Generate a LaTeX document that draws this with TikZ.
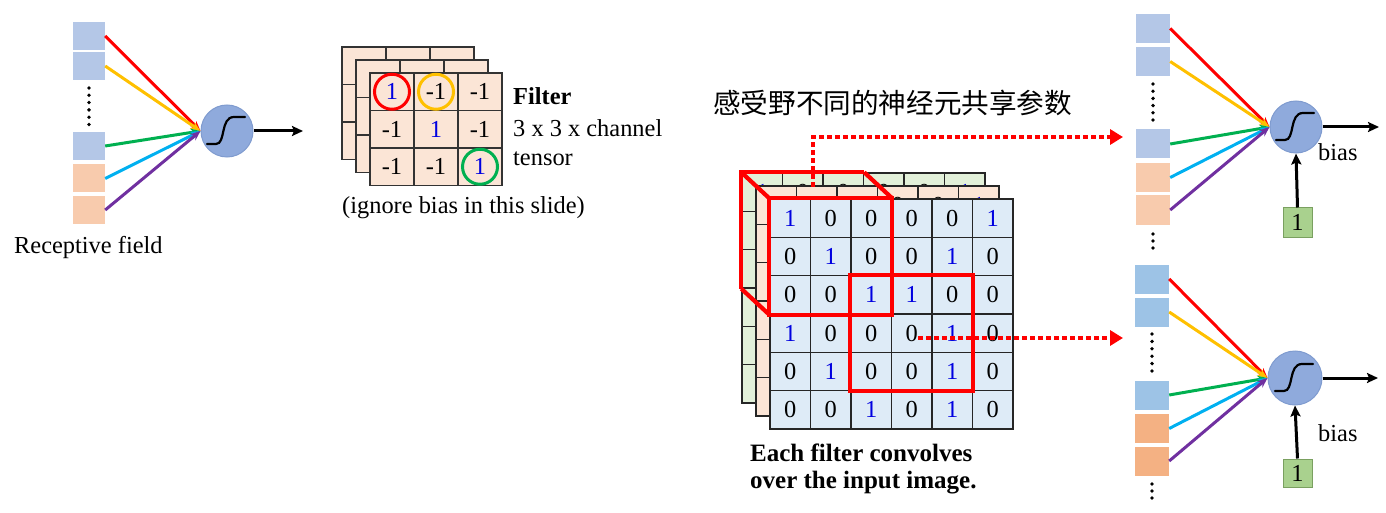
\documentclass[tikz,border=0pt]{standalone}
\usepackage{fontspec}
\setmainfont{Liberation Serif}
\newfontfamily\cjk{Noto Sans CJK SC}
\usetikzlibrary{arrows.meta}
\definecolor{boxblue}{HTML}{B4C7E7}
\definecolor{boxpeach}{HTML}{F8CBAD}
\definecolor{boxblueB}{HTML}{9DC3E6}
\definecolor{boxpeachB}{HTML}{F4B183}
\definecolor{cellpeach}{HTML}{FBE5D6}
\definecolor{cellblue}{HTML}{DEEBF7}
\definecolor{cellgreen}{HTML}{E2F0D9}
\definecolor{neuronfill}{HTML}{8FAADC}
\definecolor{neuronedge}{HTML}{7F9BCF}
\definecolor{biasgreen}{HTML}{A9D18E}
\definecolor{biasedge}{HTML}{7AA060}
\definecolor{aRed}{HTML}{FF0000}
\definecolor{aYellow}{HTML}{FFC000}
\definecolor{aGreen}{HTML}{00B050}
\definecolor{aCyan}{HTML}{00B0F0}
\definecolor{aPurple}{HTML}{7030A0}
\definecolor{numblue}{HTML}{0000E0}
\newcommand\myfs{\fontsize{24.4}{29}\selectfont}
\newcommand\cellnum[1]{\ifnum#1=1 \textcolor{numblue}{1}\else 0\fi}
\tikzset{
  inbox/.style={rectangle, minimum width=32pt, minimum height=28pt, inner sep=0pt, draw=none},
  neuron/.style={circle, fill=neuronfill, draw=neuronedge, line width=1pt, minimum size=52pt, inner sep=0pt},
  wire/.style={line width=3pt, -{Stealth[length=10pt,width=8pt]}},
  blkarrow/.style={line width=3pt, -{Stealth[length=11pt,width=10pt,inset=2pt]}},
  fcell/.style={rectangle, draw=black!80, line width=1.4pt, fill=cellpeach, minimum width=44pt, minimum height=37.5pt, inner sep=0pt},
  mcell/.style={rectangle, draw=black!85, line width=1.4pt, minimum width=40.5pt, minimum height=38.33pt, inner sep=0pt},
  redbox/.style={draw=aRed, line width=4.2pt, line join=miter},
  ring/.style={circle, line width=3pt, minimum size=35pt, inner sep=0pt},
  dotarrow/.style={draw=aRed, line width=4.8pt, dash pattern=on 4.5pt off 3.5pt, -{Triangle[length=13pt,width=15pt]}},
  biasbox/.style={rectangle, fill=biasgreen, draw=biasedge, line width=1pt, minimum width=29pt, minimum height=29pt, inner sep=0pt},
  lbl/.style={anchor=base west, inner sep=0pt},
  sigm/.pic={\draw[line width=2.2pt, line cap=round] (-20,13) -- (-11,13) .. controls (-1,13) and (-7,-14) .. (7,-14) -- (18,-14);}
}
\begin{document}
\begin{tikzpicture}[x=1pt,y=-1pt,font=\myfs]
\useasboundingbox (0,0) rectangle (1386,513);

% ---------------- left neuron ----------------
\node[inbox, fill=boxblue]  (L1) at (89,36) {};
\node[inbox, fill=boxblue]  (L2) at (89,66) {};
\node[inbox, fill=boxblue]  (L3) at (89,146) {};
\node[inbox, fill=boxpeach] (L4) at (89,178.5) {};
\node[inbox, fill=boxpeach] (L5) at (89,210) {};
\foreach \k in {0,...,5} \fill (89,88+\k*7.3) circle (1.9pt);
\node[neuron] (LN) at (227,131) {};
\pic at (LN) {sigm};
\draw[wire, aRed] (L1.east) -- (LN.west);
\draw[wire, aYellow] (L2.east) -- (LN.west);
\draw[wire, aGreen] (L3.east) -- (LN.west);
\draw[wire, aCyan] (L4.east) -- (LN.west);
\draw[wire, aPurple] (L5.east) -- (LN.west);
\coordinate (LO) at (303,131);
\draw[blkarrow] (LN.east) -- (LO);
\node[lbl] (lblRF) at (14,253) {Receptive field};

% ---------------- filter ----------------
\foreach \ox/\oy/\L in {342/47/c, 356/60/b} {
  \foreach \r in {0,1,2} \foreach \c in {0,1,2}
    \node[fcell] (f\L\r\c) at (\ox+22+\c*44, \oy+18.75+\r*37.5) {};
}
\foreach \r/\c/\v in {0/0/\textcolor{numblue}{1}, 0/1/-1, 0/2/-1, 1/0/-1, 1/1/\textcolor{numblue}{1}, 1/2/-1, 2/0/-1, 2/1/-1, 2/2/\textcolor{numblue}{1}}
  \node[fcell] (fa\r\c) at (392+\c*44, 91.75+\r*37.5) {\v};
\node[ring, draw=aRed] (ringR) at (fa00) {};
\node[ring, draw=aYellow] (ringY) at (fa01) {};
\node[ring, draw=aGreen] (ringG) at (fa22) {};
\node[lbl, font=\myfs\bfseries] (lblF) at (513,105) {Filter};
\node[lbl] (lblF2) at (513,137) {3 x 3 x channel};
\node[lbl] (lblF3) at (513,166) {tensor};
\node[lbl] (lblIg) at (342,213) {(ignore bias in this slide)};

% ---------------- input image ----------------
\foreach \ox/\oy/\L/\col in {742/173/c/cellgreen, 756/186/b/cellpeach, 770/199/a/cellblue} {
  \foreach \row [count=\r from 0] in {{1,0,0,0,0,1},{0,1,0,0,1,0},{0,0,1,1,0,0},{1,0,0,0,1,0},{0,1,0,0,1,0},{0,0,1,0,1,0}} {
    \foreach \v [count=\c from 0] in \row
      \node[mcell, fill=\col] (m\L\r\c) at (\ox+20.25+\c*40.5, \oy+19.17+\r*38.33) {\cellnum{\v}};
  }
}
% 3D receptive box
\coordinate (rfTL) at (ma00.north west);
\coordinate (rfTR) at (ma02.north east);
\coordinate (rfBL) at (ma20.south west);
\coordinate (rfBR) at (ma22.south east);
\coordinate (rbTL) at ([shift={(-28,-26)}]rfTL);
\coordinate (rbTR) at ([shift={(-28,-26)}]rfTR);
\coordinate (rbBL) at ([shift={(-28,-26)}]rfBL);
\draw[redbox] (rbBL) -- (rbTL) -- (rbTR);
\draw[redbox] (rbTL) -- (rfTL);
\draw[redbox] (rbTR) -- (rfTR);
\draw[redbox] (rbBL) -- (rfBL);
\draw[redbox] (rfTL) rectangle (rfBR);
\draw[redbox] (ma22.north west) rectangle (ma44.south east);

\node[lbl, font=\fontsize{25}{30}\selectfont\bfseries] (lblE1) at (750,461) {Each filter convolves};
\node[lbl, font=\fontsize{25}{30}\selectfont\bfseries] (lblE2) at (750,488) {over the input image.};
\node[lbl, font=\cjk\fontsize{27.6}{32}\selectfont] (lblCN) at (713,114) {感受野不同的神经元共享参数};

% ---------------- right top neuron ----------------
\node[inbox, fill=boxblue, minimum width=34pt, minimum height=29pt]  (A1) at (1153,28.5) {};
\node[inbox, fill=boxblue, minimum width=34pt, minimum height=29pt]  (A2) at (1153,61.5) {};
\node[inbox, fill=boxblue, minimum width=34pt, minimum height=29pt]  (A3) at (1153,144) {};
\node[inbox, fill=boxpeach, minimum width=34pt, minimum height=29pt] (A4) at (1153,177.5) {};
\node[inbox, fill=boxpeach, minimum width=34pt, minimum height=29pt] (A5) at (1153,210) {};
\foreach \k in {0,...,5} \fill (1153,84+\k*7.2) circle (1.9pt);
\foreach \k in {0,1,2} \fill (1153,234+\k*7) circle (1.9pt);
\node[neuron] (AN) at (1296,127) {};
\pic at (AN) {sigm};
\draw[wire, aRed] (A1.east) -- (AN.west);
\draw[wire, aYellow] (A2.east) -- (AN.west);
\draw[wire, aGreen] (A3.east) -- (AN.west);
\draw[wire, aCyan] (A4.east) -- (AN.west);
\draw[wire, aPurple] (A5.east) -- (AN.west);
\coordinate (AO) at (1379,127);
\draw[blkarrow] (AN.east) -- (AO);
\node[biasbox] (AB) at (1297.5,222.5) {1};
\draw[blkarrow] (AB.north) -- (AN.south);
\node[lbl] (lblA) at (1318,161) {bias};

% ---------------- right bottom neuron ----------------
\node[inbox, fill=boxblueB, minimum width=34pt, minimum height=29pt]  (B1) at (1152,279) {};
\node[inbox, fill=boxblueB, minimum width=34pt, minimum height=29pt]  (B2) at (1152,312) {};
\node[inbox, fill=boxblueB, minimum width=34pt, minimum height=29pt]  (B3) at (1152,395) {};
\node[inbox, fill=boxpeachB, minimum width=34pt, minimum height=29pt] (B4) at (1152,428.5) {};
\node[inbox, fill=boxpeachB, minimum width=34pt, minimum height=29pt] (B5) at (1152,461) {};
\foreach \k in {0,...,5} \fill (1152,334+\k*7.4) circle (1.9pt);
\foreach \k in {0,1,2} \fill (1152,484+\k*7) circle (1.9pt);
\node[neuron, minimum size=54pt] (BN) at (1295,378) {};
\pic at (BN) {sigm};
\draw[wire, aRed] (B1.east) -- (BN.west);
\draw[wire, aYellow] (B2.east) -- (BN.west);
\draw[wire, aGreen] (B3.east) -- (BN.west);
\draw[wire, aCyan] (B4.east) -- (BN.west);
\draw[wire, aPurple] (B5.east) -- (BN.west);
\coordinate (BO) at (1378,378);
\draw[blkarrow] (BN.east) -- (BO);
\node[biasbox, minimum height=28pt] (BB) at (1297.5,473) {1};
\draw[blkarrow] (BB.north) -- (BN.south);
\node[lbl] (lblB) at (1318,441) {bias};

% ---------------- dotted links ----------------
\coordinate (d1s) at (813,187);
\coordinate (d1e) at (1123,137);
\draw[dotarrow] (d1s) |- (d1e);
\coordinate (d2s) at (918,338);
\coordinate (d2e) at (1123,338);
\draw[dotarrow] (d2s) -- (d2e);
\end{tikzpicture}
\end{document}
